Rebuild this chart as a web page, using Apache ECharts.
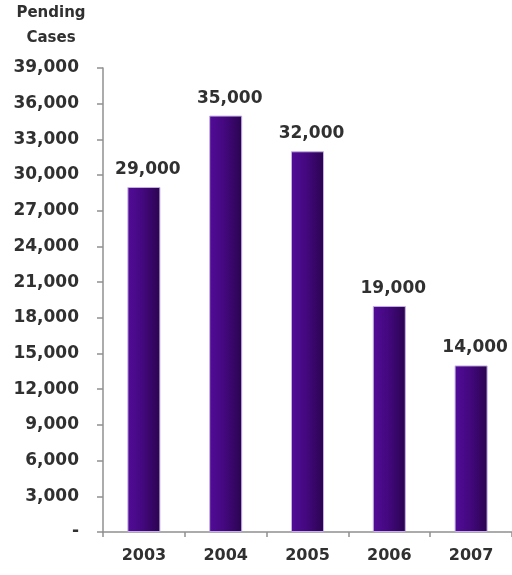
<!DOCTYPE html>
<html>
<head>
<meta charset="utf-8">
<script src="https://cdn.jsdelivr.net/npm/echarts@6/dist/echarts.min.js"></script>
<style>
  html, body { margin: 0; padding: 0; background: #fff; }
  #chart { width: 512px; height: 575px; }
</style>
</head>
<body>
<div id="chart"></div>
<script>
// Pending cases per year
const years = ['2003', '2004', '2005', '2006', '2007'];
const pendingCases = [29000, 35000, 32000, 19000, 14000];
const yMin = 0;
const yMax = 39000;
const yStep = 3000;
const axisTitleLines = ['Pending', 'Cases'];

const fontFamily = '"DejaVu Sans", Arial, sans-serif';
const textColor = '#303030';
const axisColor = '#909090';

function fmt(v) {
  return v === 0 ? '-' : v.toLocaleString('en-US');
}

const titleStyle = {
  fontFamily: fontFamily,
  fontWeight: 'bold',
  fontSize: 15,
  color: textColor
};

const chart = echarts.init(document.getElementById('chart'), null, { renderer: 'canvas' });

chart.setOption({
  animation: false,
  backgroundColor: '#ffffff',
  title: axisTitleLines.map((t, i) => ({
    text: t,
    left: 51,
    top: 6 + i * 25,
    textAlign: 'center',
    padding: 0,
    textStyle: titleStyle
  })),
  grid: {
    left: 103,
    top: 68,
    width: 417,
    bottom: 43,
    containLabel: false
  },
  xAxis: {
    type: 'category',
    data: years,
    axisLine: { show: true, lineStyle: { color: axisColor, width: 1.5 } },
    axisTick: { show: true, length: 5, inside: false, lineStyle: { color: axisColor, width: 1.5 } },
    axisLabel: {
      fontFamily: fontFamily,
      fontWeight: 'bold',
      fontSize: 16,
      color: textColor,
      margin: 16
    },
    splitLine: { show: false }
  },
  yAxis: {
    type: 'value',
    min: yMin,
    max: yMax,
    interval: yStep,
    axisLine: { show: true, lineStyle: { color: axisColor, width: 1.5 } },
    axisTick: { show: true, length: 6, lineStyle: { color: axisColor, width: 1.5 } },
    axisLabel: {
      formatter: fmt,
      fontFamily: fontFamily,
      fontWeight: 'bold',
      fontSize: 17,
      color: textColor,
      margin: 24
    },
    splitLine: { show: false }
  },
  series: [{
    type: 'bar',
    data: pendingCases,
    barWidth: 33,
    itemStyle: {
      color: new echarts.graphic.LinearGradient(0, 0, 1, 0, [
        { offset: 0, color: '#520c98' },
        { offset: 0.45, color: '#44087f' },
        { offset: 1, color: '#2a044f' }
      ]),
      borderColor: '#c4b0e2',
      borderWidth: 1
    },
    label: {
      show: true,
      position: 'top',
      distance: 9,
      formatter: p => fmt(p.value),
      fontFamily: fontFamily,
      fontWeight: 'bold',
      fontSize: 17,
      color: textColor,
      offset: [4, 0]
    }
  }]
});
</script>
</body>
</html>
